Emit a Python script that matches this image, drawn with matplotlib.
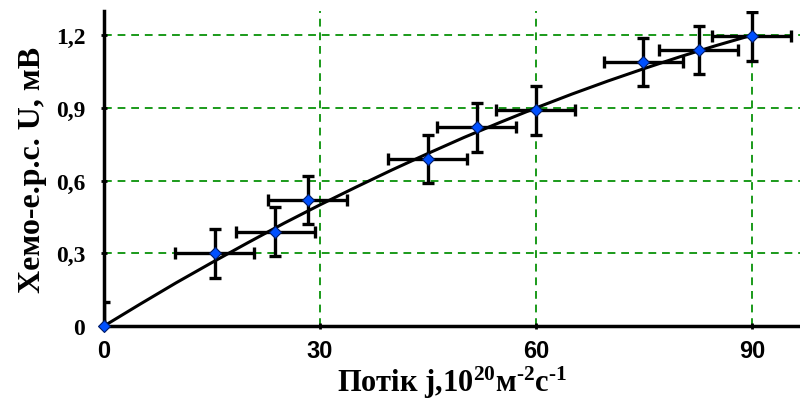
import numpy as np
import matplotlib.pyplot as plt

plt.rcParams["mathtext.fontset"] = "custom"
plt.rcParams["mathtext.rm"] = "Liberation Serif:bold"
plt.rcParams["mathtext.bf"] = "Liberation Serif:bold"
plt.rcParams["mathtext.default"] = "bf"

# data
flux = [0, 15.4, 23.8, 28.3, 45.0, 51.8, 60.0, 74.9, 82.6, 90.0]
emf = [0, 0.30, 0.39, 0.52, 0.69, 0.82, 0.89, 1.09, 1.14, 1.195]
flux_err = [0, 5.5, 5.5, 5.5, 5.5, 5.5, 5.5, 5.5, 5.5, 5.5]
emf_err = [0.1, 0.1, 0.1, 0.1, 0.1, 0.1, 0.1, 0.1, 0.1, 0.1]

# trend line readings
fit_x = [0, 5, 10, 15, 20, 25, 30, 35, 40, 45, 50, 55, 60, 65, 70, 75, 80, 85, 90]
fit_y = [0, 0.090, 0.178, 0.262, 0.344, 0.424, 0.500, 0.573, 0.644, 0.712,
         0.778, 0.840, 0.900, 0.957, 1.011, 1.062, 1.111, 1.157, 1.200]

xticks = [0, 30, 60, 90]
yticks = [0, 0.3, 0.6, 0.9, 1.2]
ytick_labels = ["0", "0,3", "0,6", "0,9", "1,2"]

fig = plt.figure(figsize=(8, 4.1), dpi=100)
ax = fig.add_axes([0.13, 0.2024, 0.87, 0.7683])

ax.grid(True, color="#1a9a1a", linestyle=(0, (4, 3)), linewidth=1.4)
ax.set_axisbelow(True)

ax.plot(fit_x, fit_y, color="black", lw=2.2, zorder=3)
ax.errorbar(flux, emf, xerr=flux_err, yerr=emf_err, fmt="none",
            ecolor="black", elinewidth=2.4, capsize=4, capthick=2.4, zorder=4)
ax.plot(flux, emf, "D", color="#0050ff", mec="#001a66", mew=0.8, ms=6,
        zorder=5, clip_on=False)

ax.set_xlim(0, 96.7)
ax.set_ylim(0, 1.3)
ax.set_xticks(xticks)
ax.set_yticks(yticks)
ax.set_yticklabels(ytick_labels)

for s in ["top", "right"]:
    ax.spines[s].set_visible(False)
for s in ["left", "bottom"]:
    ax.spines[s].set_linewidth(2.5)

ax.tick_params(axis="both", length=5, width=2, direction="inout")
for lbl in ax.get_xticklabels():
    lbl.set_fontfamily(["Liberation Sans Narrow", "Liberation Sans"])
    lbl.set_fontweight("bold")
    lbl.set_fontsize(17)
for lbl in ax.get_yticklabels():
    lbl.set_fontfamily("Liberation Serif")
    lbl.set_fontweight("bold")
    lbl.set_fontsize(17)
ax.tick_params(axis="x", pad=7)
ax.tick_params(axis="y", pad=11)

ax.set_xlabel("Потік j,10$^{20}$м$^{\u2010 2}$с$^{\u2010 1}$",
              fontfamily="Liberation Serif", fontweight="bold", fontsize=22,
              labelpad=1)
ax.set_ylabel("Хемо-е.р.с. U, мВ", fontfamily="Liberation Serif",
              fontweight="bold", fontsize=23, labelpad=6)

fig.savefig("out.png", dpi=100)
